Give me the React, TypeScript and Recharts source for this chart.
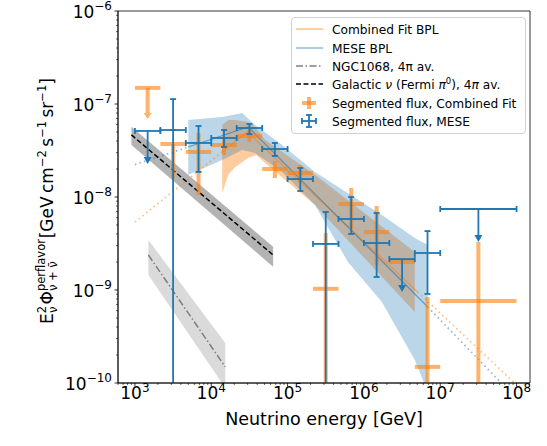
import React from "react";
import {
  ComposedChart, XAxis, YAxis, Line, Area, Scatter, ErrorBar, ReferenceArea,
} from "recharts";

const FONT = "DejaVu Sans, Verdana, sans-serif";
const BLUE = "#1f77b4";
const ORANGE = "#ff7f0e";

// axis limits and decade ticks
const xDomain = [600, 1.5e8];
const yDomain = [1e-10, 1e-6];
const xMajorTicks = [1e3, 1e4, 1e5, 1e6, 1e7, 1e8];
const yMajorTicks = [1e-10, 1e-9, 1e-8, 1e-7, 1e-6];

// segmented flux energy bins [GeV]
const binEdges = [
  1000, 2154, 4642, 10000, 21544, 46416, 100000, 215443, 464159,
  1000000, 2154435, 4641589, 10000000, 100000000,
];

// segmented flux, combined fit (lower edge 1e-10 = runs off the bottom)
const combFlux = [1.49e-7, 3.72e-8, 3.05e-8, 3.62e-8, 4.53e-8, 2.0e-8, 1.81e-8, 1.03e-9, 8.4e-9, 4.2e-9, 2.0e-9, 1.49e-10, 7.6e-10];
const combHigh = [1.49e-7, 3.72e-8, 4.88e-8, 4.41e-8, 5.25e-8, 2.44e-8, 2.21e-8, 4.1e-9, 1.25e-8, 8.0e-9, 2.0e-9, 8.4e-10, 3.28e-9];
const combLow = [1.49e-7, 1.6e-8, 1.05e-8, 2.83e-8, 3.9e-8, 1.6e-8, 1.42e-8, 1e-10, 4.4e-9, 1.86e-9, 2.0e-9, 1e-10, 1e-10];
const combUpperLimit = [true, false, false, false, false, false, false, false, false, false, false, false, false];

// segmented flux, MESE
const meseFlux = [5.13e-8, 5.25e-8, 3.81e-8, 4.31e-8, 5.52e-8, 3.28e-8, 1.56e-8, 3.13e-9, 5.8e-9, 3.2e-9, 2.15e-9, 2.5e-9, 7.43e-9];
const meseHigh = [5.13e-8, 1.13e-7, 5.8e-8, 5.25e-8, 6.1e-8, 3.81e-8, 2.05e-8, 6.9e-9, 1.0e-8, 6.73e-9, 2.15e-9, 4.3e-9, 7.43e-9];
const meseLow = [5.13e-8, 1e-10, 1.86e-8, 3.45e-8, 4.75e-8, 2.76e-8, 1.16e-8, 1e-10, 4.0e-9, 1.38e-9, 2.15e-9, 9.06e-10, 7.43e-9];
const meseUpperLimit = [true, false, false, false, false, false, false, false, false, false, true, false, true];

// MESE broken power law: solid in fit range, dotted outside
const meseBplE = [5000, 30500, 6870000];
const meseBplF = [3.45e-8, 5.66e-8, 6.56e-10];
const meseBplLowE = [1000, 5000];
const meseBplLowF = [2.23e-8, 3.45e-8];
const meseBplHighE = [6870000, 63000000];
const meseBplHighF = [6.56e-10, 1.0e-10];
const meseBandE = [5000, 13930, 25400, 37600, 84700, 228600, 618000, 1720000, 4640000, 6870000];
const meseBandLo = [1.73e-8, 2.5e-8, 3.2e-8, 2.97e-8, 1.86e-8, 8.2e-9, 2.0e-9, 7.43e-10, 1.77e-10, 8e-11];
const meseBandHi = [6.73e-8, 7.24e-8, 8.0e-8, 5.94e-8, 3.62e-8, 1.86e-8, 1.1e-8, 6.4e-9, 3.62e-9, 3.05e-9];

// Combined fit broken power law
const combBplE = [13930, 29500, 5080000];
const combBplF = [3.05e-8, 5.01e-8, 9.5e-10];
const combBplLowE = [1000, 13930];
const combBplLowF = [5.38e-9, 3.05e-8];
const combBplHighE = [5080000, 93000000];
const combBplHighF = [9.5e-10, 1.01e-10];
const combBandE = [13930, 16670, 20600, 30500, 38700, 50800, 228600, 4640000];
const combBandLo = [1.1e-8, 1.73e-8, 2.1e-8, 2.62e-8, 2.83e-8, 2.32e-8, 8.2e-9, 5.8e-10];
const combBandHi = [5.94e-8, 6.73e-8, 6.73e-8, 6.4e-8, 5.52e-8, 4.1e-8, 1.73e-8, 2.56e-9];

// Galactic plane (Fermi pi0), 4pi average
const galE = [900, 64600];
const galF = [4.65e-8, 2.38e-9];
const galLo = [3.62e-8, 1.78e-9];
const galHi = [5.7e-8, 2.92e-9];

// NGC1068, 4pi average
const ngcE = [1500, 15240];
const ngcF = [2.38e-9, 1.49e-10];
const ngcLo = [1.45e-9, 8.9e-11];
const ngcHi = [3.45e-9, 2.69e-10];

const line = (E: number[], F: number[]) => E.map((e, i) => ({ e, f: F[i] }));
const band = (E: number[], lo: number[], hi: number[]) => E.map((e, i) => ({ e, r: [lo[i], hi[i]] }));

// which: "ul" upper limits, "open" lower end off the plot, "closed" the rest
function segmented(flux: number[], high: number[], low: number[], ul: boolean[], which: string) {
  const out: any[] = [];
  flux.forEach((f, i) => {
    const kind = ul[i] ? "ul" : low[i] <= yDomain[0] ? "open" : "closed";
    if (kind !== which) return;
    const lo = binEdges[i];
    const hi = binEdges[i + 1];
    const e = Math.sqrt(lo * hi);
    out.push({
      e, f,
      ex: [e - lo, hi - e],
      ey: [f - low[i], high[i] - f],
      eyUp: [0, high[i] - f],
      eyDown: [f - low[i], 0],
    });
  });
  return out;
}

function minorTicks(lo: number, hi: number) {
  const out: number[] = [];
  for (let d = Math.floor(Math.log10(lo)); d <= Math.ceil(Math.log10(hi)); d++) {
    for (let k = 2; k <= 9; k++) {
      const v = k * Math.pow(10, d);
      if (v >= lo && v <= hi) out.push(v);
    }
  }
  return out;
}

const xTicks = [...xMajorTicks, ...minorTicks(xDomain[0], xDomain[1])].sort((a, b) => a - b);
const yTicks = [...yMajorTicks, ...minorTicks(yDomain[0], yDomain[1])].sort((a, b) => a - b);

const isMajor = (v: number) => Math.abs(Math.log10(v) - Math.round(Math.log10(v))) < 1e-6;
const expo = (v: number) => {
  const n = Math.round(Math.log10(v));
  return n < 0 ? `\u2212${-n}` : `${n}`;
};

function XTick(props: any) {
  const { x, y, payload } = props;
  const major = isMajor(payload.value);
  return (
    <g>
      <line x1={x} x2={x} y1={y} y2={y + (major ? 3.5 : 2)} stroke="#000" strokeWidth={major ? 0.8 : 0.6} />
      {major && (
        <text x={x} y={y + 15.5} textAnchor="middle" fontSize={17} fontFamily={FONT} fill="#000">
          10<tspan fontSize={12} dy={-7}>{expo(payload.value)}</tspan>
        </text>
      )}
    </g>
  );
}

function YTick(props: any) {
  const { x, y, payload } = props;
  const major = isMajor(payload.value);
  return (
    <g>
      <line x1={x} x2={x - (major ? 3.5 : 2)} y1={y} y2={y} stroke="#000" strokeWidth={major ? 0.8 : 0.6} />
      {major && (
        <text x={x - 6} y={y + 6.5} textAnchor="end" fontSize={17} fontFamily={FONT} fill="#000">
          10<tspan fontSize={12} dy={-8}>{expo(payload.value)}</tspan>
        </text>
      )}
    </g>
  );
}

function XLabel(props: any) {
  const vb = props.viewBox || { x: 118, y: 383, width: 412 };
  return (
    <text x={vb.x + vb.width / 2} y={vb.y + 42} textAnchor="middle" fontSize={17.5} fontFamily={FONT} fill="#000">
      Neutrino energy [GeV]
    </text>
  );
}

function YLabel(props: any) {
  const vb = props.viewBox || { y: 11, height: 372 };
  const x = 53;
  const y = vb.y + vb.height / 2 + 4;
  return (
    <text x={x} y={y} transform={`rotate(-90 ${x} ${y})`} textAnchor="middle" fontSize={17} fontFamily={FONT} fill="#000">
      E<tspan fontSize={11.5} dy={-7}>2</tspan>
      <tspan fontSize={11.5} dx={-7} dy={11}>ν</tspan>
      <tspan dx={2} dy={-4}>Φ</tspan>
      <tspan fontSize={11.5} dy={-8}>perflavor</tspan>
      <tspan fontSize={11.5} dx={-52} dy={12}>ν + ν̄</tspan>
      <tspan dx={23} dy={-4}>[GeV{"\u2009"}cm</tspan>
      <tspan fontSize={11.5} dy={-7}>−2</tspan>
      <tspan dy={7}>{"\u2009"}s</tspan>
      <tspan fontSize={11.5} dy={-7}>−1</tspan>
      <tspan dy={7}>{"\u2009"}sr</tspan>
      <tspan fontSize={11.5} dy={-7}>−1</tspan>
      <tspan dy={7}>]</tspan>
    </text>
  );
}

const NoMarker = () => <g />;

function BlueArrow(props: any) {
  const { cx, cy } = props;
  return (
    <g>
      <line x1={cx} x2={cx} y1={cy} y2={cy + 27} stroke={BLUE} strokeWidth={1.8} />
      <polygon points={`${cx - 4},${cy + 26} ${cx + 4},${cy + 26} ${cx},${cy + 33}`} fill={BLUE} />
    </g>
  );
}

function OrangeArrow(props: any) {
  const { cx, cy } = props;
  return (
    <g opacity={0.6}>
      <line x1={cx} x2={cx} y1={cy} y2={cy + 26} stroke={ORANGE} strokeWidth={4} />
      <polygon points={`${cx - 4},${cy + 25} ${cx + 4},${cy + 25} ${cx},${cy + 31}`} fill={ORANGE} />
    </g>
  );
}

function LegendBox() {
  const rows = [
    "Combined Fit BPL",
    "MESE BPL",
    "NGC1068, 4π av.",
    null,
    "Segmented flux, Combined Fit",
    "Segmented flux, MESE",
  ];
  const ys = [11, 30, 48, 66, 85, 103];
  const hx = 17;
  return (
    <div
      style={{
        position: "absolute", left: 291, top: 17, width: 233, height: 115,
        border: "1px solid #d0d0d0", borderRadius: 4, background: "rgba(255,255,255,0.8)",
      }}
    >
      <svg width={233} height={115} style={{ display: "block" }}>
        <g fontFamily={FONT} fontSize={12.2} fill="#000">
          <line x1={4} x2={31} y1={ys[0]} y2={ys[0]} stroke={ORANGE} strokeOpacity={0.5} strokeWidth={1.5} />
          <line x1={4} x2={31} y1={ys[1]} y2={ys[1]} stroke={BLUE} strokeOpacity={0.5} strokeWidth={1.5} />
          <line x1={4} x2={31} y1={ys[2]} y2={ys[2]} stroke="#7f7f7f" strokeWidth={1.5} strokeDasharray="7 2.5 1.5 2.5" />
          <line x1={4} x2={31} y1={ys[3]} y2={ys[3]} stroke="#000" strokeWidth={1.5} strokeDasharray="5 2.5" />
          <g stroke={ORANGE} strokeOpacity={0.6} strokeWidth={4}>
            <line x1={hx - 7} x2={hx + 7} y1={ys[4]} y2={ys[4]} />
            <line x1={hx} x2={hx} y1={ys[4] - 6} y2={ys[4] + 6} />
          </g>
          <g stroke={BLUE} strokeWidth={1.8}>
            <line x1={hx - 7} x2={hx + 7} y1={ys[5]} y2={ys[5]} />
            <line x1={hx} x2={hx} y1={ys[5] - 6} y2={ys[5] + 6} />
            <line x1={hx - 7} x2={hx - 7} y1={ys[5] - 3} y2={ys[5] + 3} />
            <line x1={hx + 7} x2={hx + 7} y1={ys[5] - 3} y2={ys[5] + 3} />
            <line x1={hx - 3} x2={hx + 3} y1={ys[5] - 6} y2={ys[5] - 6} />
            <line x1={hx - 3} x2={hx + 3} y1={ys[5] + 6} y2={ys[5] + 6} />
          </g>
          {rows.map((r, i) => r && (
            <text key={i} x={40} y={ys[i] + 4.5}>{r}</text>
          ))}
          <text x={40} y={ys[3] + 4.5}>
            Galactic <tspan fontStyle="italic">ν</tspan> (Fermi <tspan fontStyle="italic">π</tspan>
            <tspan fontSize={8.5} dy={-5}>0</tspan><tspan dy={5}>), 4</tspan>
            <tspan fontStyle="italic">π</tspan> av.
          </text>
        </g>
      </svg>
    </div>
  );
}

export default function App() {
  return (
    <div style={{ position: "fixed", left: 0, top: 0, width: 547, height: 446, background: "#fff" }}>
      <ComposedChart width={547} height={446} margin={{ top: 11, right: 17, bottom: 0, left: 0 }}>
        <XAxis
          dataKey="e" type="number" scale="log" domain={xDomain} allowDataOverflow
          ticks={xTicks} interval={0} tick={<XTick />} tickLine={false} tickSize={0} tickMargin={0}
          height={63} axisLine={{ stroke: "#000", strokeWidth: 0.8 }} label={<XLabel />}
        />
        <YAxis
          type="number" scale="log" domain={yDomain} allowDataOverflow
          ticks={yTicks} interval={0} tick={<YTick />} tickLine={false} tickSize={0} tickMargin={0}
          width={118} axisLine={{ stroke: "#000", strokeWidth: 0.8 }} label={<YLabel />}
        />

        <Area data={band(combBandE, combBandLo, combBandHi)} dataKey="r" type="linear" stroke="none" fill={ORANGE} fillOpacity={0.4} isAnimationActive={false} />
        <Area data={band(meseBandE, meseBandLo, meseBandHi)} dataKey="r" type="linear" stroke="none" fill={BLUE} fillOpacity={0.3} isAnimationActive={false} />
        <Area data={band(ngcE, ngcLo, ngcHi)} dataKey="r" type="linear" stroke="none" fill="#d3d3d3" fillOpacity={0.85} isAnimationActive={false} />
        <Area data={band(galE, galLo, galHi)} dataKey="r" type="linear" stroke="none" fill="#808080" fillOpacity={0.6} isAnimationActive={false} />

        <Line data={line(combBplE, combBplF)} dataKey="f" type="linear" stroke={ORANGE} strokeOpacity={0.6} strokeWidth={1.2} dot={false} isAnimationActive={false} />
        <Line data={line(combBplLowE, combBplLowF)} dataKey="f" type="linear" stroke={ORANGE} strokeOpacity={0.5} strokeWidth={1.8} strokeDasharray="1.5 3.3" dot={false} isAnimationActive={false} />
        <Line data={line(combBplHighE, combBplHighF)} dataKey="f" type="linear" stroke={ORANGE} strokeOpacity={0.5} strokeWidth={1.8} strokeDasharray="1.5 3.3" dot={false} isAnimationActive={false} />
        <Line data={line(meseBplE, meseBplF)} dataKey="f" type="linear" stroke={BLUE} strokeOpacity={0.6} strokeWidth={1.2} dot={false} isAnimationActive={false} />
        <Line data={line(meseBplLowE, meseBplLowF)} dataKey="f" type="linear" stroke={BLUE} strokeOpacity={0.5} strokeWidth={1.8} strokeDasharray="1.5 3.3" dot={false} isAnimationActive={false} />
        <Line data={line(meseBplHighE, meseBplHighF)} dataKey="f" type="linear" stroke={BLUE} strokeOpacity={0.5} strokeWidth={1.8} strokeDasharray="1.5 3.3" dot={false} isAnimationActive={false} />
        <Line data={line(ngcE, ngcF)} dataKey="f" type="linear" stroke="#7f7f7f" strokeWidth={1.5} strokeDasharray="7 2.5 1.5 2.5" dot={false} isAnimationActive={false} />
        <Line data={line(galE, galF)} dataKey="f" type="linear" stroke="#000" strokeWidth={1.5} strokeDasharray="5 2.5" dot={false} isAnimationActive={false} />

        <Scatter data={segmented(combFlux, combHigh, combLow, combUpperLimit, "closed")} dataKey="f" shape={NoMarker} isAnimationActive={false}>
          <ErrorBar dataKey="ex" direction="x" width={0} stroke={ORANGE} strokeOpacity={0.6} strokeWidth={4} />
          <ErrorBar dataKey="ey" direction="y" width={0} stroke={ORANGE} strokeOpacity={0.6} strokeWidth={4} />
        </Scatter>
        <Scatter data={segmented(combFlux, combHigh, combLow, combUpperLimit, "open")} dataKey="f" shape={NoMarker} isAnimationActive={false}>
          <ErrorBar dataKey="ex" direction="x" width={0} stroke={ORANGE} strokeOpacity={0.6} strokeWidth={4} />
          <ErrorBar dataKey="ey" direction="y" width={0} stroke={ORANGE} strokeOpacity={0.6} strokeWidth={4} />
        </Scatter>
        <Scatter data={segmented(combFlux, combHigh, combLow, combUpperLimit, "ul")} dataKey="f" shape={OrangeArrow} isAnimationActive={false}>
          <ErrorBar dataKey="ex" direction="x" width={0} stroke={ORANGE} strokeOpacity={0.6} strokeWidth={4} />
        </Scatter>
        <Scatter data={segmented(meseFlux, meseHigh, meseLow, meseUpperLimit, "closed")} dataKey="f" shape={NoMarker} isAnimationActive={false}>
          <ErrorBar dataKey="ex" direction="x" width={3} stroke={BLUE} strokeWidth={1.8} />
          <ErrorBar dataKey="ey" direction="y" width={3} stroke={BLUE} strokeWidth={1.8} />
        </Scatter>
        <Scatter data={segmented(meseFlux, meseHigh, meseLow, meseUpperLimit, "open")} dataKey="f" shape={NoMarker} isAnimationActive={false}>
          <ErrorBar dataKey="ex" direction="x" width={3} stroke={BLUE} strokeWidth={1.8} />
          <ErrorBar dataKey="eyUp" direction="y" width={3} stroke={BLUE} strokeWidth={1.8} />
          <ErrorBar dataKey="eyDown" direction="y" width={0} stroke={BLUE} strokeWidth={1.8} />
        </Scatter>
        <Scatter data={segmented(meseFlux, meseHigh, meseLow, meseUpperLimit, "ul")} dataKey="f" shape={BlueArrow} isAnimationActive={false}>
          <ErrorBar dataKey="ex" direction="x" width={3} stroke={BLUE} strokeWidth={1.8} />
        </Scatter>

        <ReferenceArea x1={xDomain[0]} x2={xDomain[1]} y1={yDomain[0]} y2={yDomain[1]} fill="none" stroke="#000" strokeWidth={0.8} />
      </ComposedChart>
      <LegendBox />
    </div>
  );
}
